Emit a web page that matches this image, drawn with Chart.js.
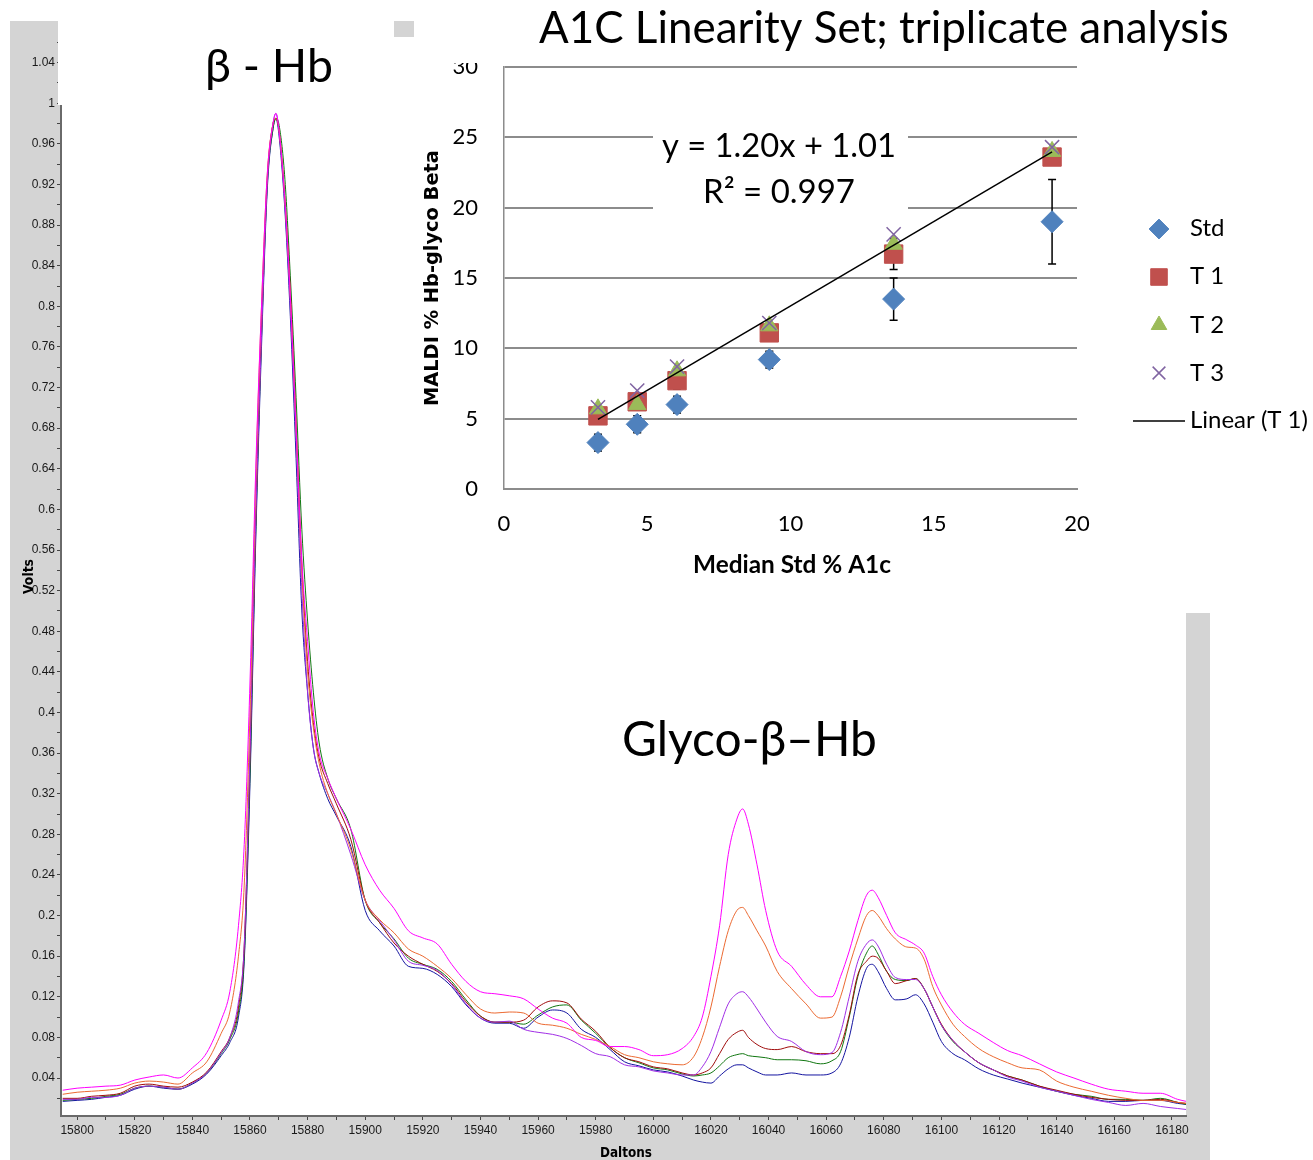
<!DOCTYPE html>
<html><head><meta charset="utf-8">
<script src="https://cdn.jsdelivr.net/npm/chart.js@4.4.0/dist/chart.umd.min.js"></script>
<style>
html,body{margin:0;padding:0;background:#fff;}
#wrap{position:relative;width:1313px;height:1160px;overflow:hidden;background:#fff;}
canvas{position:absolute;}
</style></head><body>
<div id="wrap">
<canvas id="main" width="1313" height="1160" style="left:0;top:0"></canvas>
<canvas id="inset" width="899" height="613" style="left:414px;top:0;background:#fff"></canvas>
<canvas id="over" width="1313" height="1160" style="left:0;top:0;pointer-events:none"></canvas>
</div>
<script>
// ---------- Spectrum data (Daltons vs Volts) ----------
const daltons = [15795,15800,15805,15810,15815,15820,15825,15830,15835,15840,
 15845,15850,15853,15856,15858,15860,15862,15864,15866,15868,
 15869,15870,15872,15874,15876,15878,15880,15882,15884,15887,
 15890,15895,15900,15905,15910,15915,15920,15925,15930,15935,
 15940,15945,15950,15955,15960,15965,15970,15975,15980,15985,
 15990,15995,16000,16005,16010,16014,16017,16020,16023,16026,
 16029,16031,16033,16036,16039,16043,16048,16053,16058,16062,
 16065,16068,16071,16074,16076,16078,16081,16084,16088,16091,
 16094,16097,16100,16104,16108,16113,16118,16123,16128,16134,
 16140,16146,16152,16158,16164,16170,16176,16182,16185];

const magentaTrace = [0.028,0.030,0.031,0.032,0.033,0.038,0.041,0.043,0.040,0.050,
 0.065,0.097,0.125,0.19,0.27,0.43,0.64,0.80,0.93,0.98,
 0.99,0.975,0.91,0.81,0.68,0.55,0.47,0.40,0.36,0.335,
 0.315,0.285,0.25,0.225,0.207,0.185,0.178,0.172,0.152,0.135,
 0.125,0.123,0.121,0.118,0.108,0.099,0.094,0.080,0.077,0.071,
 0.071,0.068,0.062,0.063,0.069,0.081,0.100,0.140,0.190,0.260,
 0.295,0.305,0.290,0.250,0.205,0.165,0.150,0.132,0.120,0.120,
 0.140,0.165,0.195,0.220,0.225,0.218,0.200,0.183,0.176,0.171,
 0.163,0.140,0.122,0.105,0.093,0.084,0.075,0.067,0.062,0.054,
 0.046,0.040,0.034,0.029,0.027,0.025,0.025,0.019,0.017];

const orangeTrace = [0.024,0.026,0.027,0.028,0.030,0.035,0.037,0.036,0.034,0.045,
 0.056,0.084,0.105,0.16,0.23,0.40,0.63,0.80,0.93,0.98,
 0.985,0.975,0.91,0.81,0.68,0.54,0.44,0.385,0.35,0.32,
 0.30,0.265,0.215,0.196,0.183,0.167,0.160,0.150,0.138,0.122,
 0.108,0.104,0.105,0.104,0.094,0.092,0.089,0.083,0.078,0.071,
 0.063,0.060,0.056,0.054,0.053,0.061,0.080,0.110,0.150,0.185,
 0.205,0.208,0.200,0.185,0.170,0.145,0.128,0.113,0.099,0.100,
 0.120,0.150,0.177,0.200,0.205,0.200,0.187,0.177,0.169,0.168,
 0.157,0.130,0.112,0.093,0.081,0.069,0.061,0.055,0.050,0.048,
 0.037,0.031,0.027,0.023,0.020,0.018,0.018,0.016,0.015];

const purpleTrace = [0.019,0.019,0.021,0.021,0.023,0.030,0.032,0.031,0.029,0.035,
 0.045,0.065,0.080,0.115,0.17,0.36,0.59,0.77,0.92,0.98,
 0.99,0.975,0.905,0.80,0.67,0.52,0.42,0.365,0.34,0.32,
 0.30,0.26,0.215,0.195,0.176,0.155,0.151,0.146,0.132,0.113,
 0.099,0.095,0.096,0.088,0.085,0.083,0.079,0.072,0.064,0.061,
 0.053,0.051,0.047,0.045,0.043,0.043,0.051,0.066,0.090,0.113,
 0.123,0.125,0.120,0.108,0.095,0.081,0.076,0.066,0.063,0.065,
 0.085,0.120,0.155,0.172,0.176,0.170,0.152,0.139,0.137,0.137,
 0.128,0.110,0.092,0.077,0.066,0.055,0.048,0.041,0.037,0.031,
 0.027,0.023,0.019,0.016,0.013,0.015,0.012,0.010,0.009];

const darkRedTrace = [0.020,0.020,0.022,0.023,0.025,0.032,0.034,0.032,0.031,0.036,
 0.046,0.066,0.080,0.110,0.17,0.36,0.59,0.78,0.925,0.98,
 0.985,0.975,0.91,0.815,0.685,0.545,0.45,0.39,0.355,0.33,
 0.31,0.275,0.215,0.193,0.173,0.160,0.152,0.145,0.133,0.115,
 0.101,0.095,0.095,0.097,0.110,0.116,0.114,0.098,0.086,0.070,
 0.060,0.056,0.051,0.049,0.045,0.043,0.045,0.050,0.064,0.078,
 0.085,0.087,0.080,0.073,0.069,0.068,0.071,0.066,0.064,0.064,
 0.072,0.102,0.142,0.155,0.160,0.158,0.145,0.133,0.136,0.138,
 0.128,0.110,0.093,0.077,0.066,0.055,0.048,0.042,0.038,0.032,
 0.028,0.024,0.021,0.019,0.018,0.018,0.019,0.016,0.015];

const greenTrace = [0.018,0.019,0.020,0.022,0.024,0.030,0.032,0.031,0.029,0.035,
 0.045,0.064,0.078,0.105,0.16,0.34,0.58,0.77,0.92,0.975,
 0.985,0.98,0.93,0.83,0.71,0.58,0.49,0.42,0.37,0.335,
 0.315,0.285,0.215,0.193,0.177,0.158,0.152,0.147,0.135,0.117,
 0.101,0.095,0.095,0.093,0.102,0.110,0.112,0.097,0.084,0.070,
 0.060,0.055,0.050,0.048,0.044,0.042,0.043,0.045,0.052,0.060,
 0.063,0.064,0.062,0.061,0.060,0.058,0.058,0.057,0.054,0.057,
 0.066,0.100,0.140,0.163,0.170,0.162,0.145,0.137,0.136,0.138,
 0.128,0.110,0.092,0.076,0.066,0.055,0.048,0.042,0.038,0.032,
 0.027,0.024,0.022,0.019,0.019,0.018,0.020,0.016,0.014];

const blueTrace = [0.017,0.018,0.019,0.021,0.023,0.029,0.032,0.030,0.029,0.034,
 0.044,0.062,0.075,0.100,0.155,0.33,0.57,0.76,0.915,0.975,
 0.985,0.97,0.90,0.79,0.65,0.50,0.42,0.365,0.34,0.315,
 0.298,0.268,0.205,0.185,0.170,0.150,0.148,0.142,0.130,0.112,
 0.099,0.094,0.094,0.089,0.100,0.107,0.104,0.088,0.080,0.068,
 0.056,0.052,0.048,0.046,0.042,0.038,0.036,0.035,0.042,0.049,
 0.053,0.053,0.050,0.046,0.043,0.043,0.045,0.043,0.043,0.045,
 0.054,0.080,0.120,0.148,0.152,0.145,0.128,0.117,0.118,0.122,
 0.113,0.095,0.076,0.064,0.058,0.049,0.043,0.039,0.035,0.031,
 0.027,0.023,0.020,0.017,0.017,0.018,0.018,0.015,0.014];

const voltTicks = [0.04,0.08,0.12,0.16,0.2,0.24,0.28,0.32,0.36,0.4,0.44,0.48,0.52,0.56,0.6,0.64,0.68,0.72,0.76,0.8,0.84,0.88,0.92,0.96,1,1.04];
const daltonTicks = [15800,15820,15840,15860,15880,15900,15920,15940,15960,15980,16000,16020,16040,16060,16080,16100,16120,16140,16160,16180];

// ---------- Inset (A1C linearity) data ----------
const medianStdA1c = [3.28, 4.65, 6.04, 9.26, 13.6, 19.13];
const stdValues   = [3.3, 4.6, 6.0, 9.2, 13.5, 19.0];
const stdErr      = [0.6, 0.6, 0.6, 0.6, 1.5, 3.0];
const t1Values    = [5.2, 6.2, 7.7, 11.1, 16.7, 23.6];
const t1Err       = [0.3, 0.4, 0.6, 0.5, 1.1, 0.5];
const t2Values    = [5.7, 6.0, 8.4, 11.6, 17.4, 24.0];
const t3Values    = [5.8, 7.0, 8.7, 11.8, 18.1, 24.3];
const trendSlope = 1.20, trendIntercept = 1.01;
const insetXTicks = [0, 5, 10, 15, 20];
const insetYTicks = [0, 5, 10, 15, 20, 25, 30];

const TICKFONT = "'Liberation Sans Narrow','Liberation Sans',Arial,sans-serif";
const CAL = "Lato, 'Open Sans', sans-serif";

function pts(arr){ return daltons.map((d,i)=>({x:d, y:arr[i]})); }
function line(label, arr, color){
  return {label, data:pts(arr), borderColor:color, borderWidth:1, pointRadius:0,
    cubicInterpolationMode:'monotone', fill:false};
}

const bgPlugin = {
  id:'bg',
  beforeDraw(chart){
    const c = chart.ctx, a = chart.chartArea;
    c.save();
    c.fillStyle = '#d4d4d4'; c.fillRect(10, 21, 1200, 1139);
    c.fillStyle = '#ffffff'; c.fillRect(a.left, a.top, a.right - a.left, a.bottom - a.top);
    c.restore();
  }
};

new Chart(document.getElementById('main'), {
  type:'line',
  data:{ datasets:[
    line('T magenta', magentaTrace, '#ff00ff'),
    line('T orange', orangeTrace, '#ec6a32'),
    line('T purple', purpleTrace, '#a12ee6'),
    line('T dark red', darkRedTrace, '#a00c0c'),
    line('T green', greenTrace, '#117711'),
    line('T blue', blueTrace, '#1414a0')
  ]},
  options:{
    responsive:false, animation:false, events:[],
    layout:{padding:{left:10, right:127, top:22, bottom:0}},
    plugins:{legend:{display:false}, tooltip:{enabled:false}},
    scales:{
      x:{type:'linear', min:15794.4, max:16184.9,
        afterBuildTicks(s){ const t=[]; daltonTicks.forEach(v=>{t.push({value:v,lbl:String(v)}); t.push({value:v+10,lbl:''});}); t.push({value:15790,lbl:''}); s.ticks = t.filter(o=>o.value>=s.min&&o.value<=s.max).sort((a,b)=>a.value-b.value); },
        afterFit(s){ s.height = 44; },
        ticks:{autoSkip:false, maxRotation:0, padding:3, color:'#1a1a1a', font:{family:TICKFONT, size:12},
          callback(v,i,t){ return t[i].lbl; }},
        grid:{drawOnChartArea:false, drawTicks:true, tickLength:4, color:'#444'},
        border:{display:true, color:'#6a6a6a', width:2}
      },
      y:{type:'linear', min:0.0026, max:1.08,
        afterBuildTicks(s){ const t=[]; voltTicks.forEach(v=>{t.push({value:v,lbl:String(v)}); t.push({value:+(v+0.02).toFixed(2),lbl:''});}); t.push({value:0.02,lbl:''}); s.ticks = t.filter(o=>o.value>=s.min&&o.value<=s.max).sort((a,b)=>a.value-b.value); },
        afterFit(s){ s.width = 51; },
        ticks:{autoSkip:false, padding:2, color:'#1a1a1a', font:{family:TICKFONT, size:12},
          callback(v,i,t){ return t[i].lbl; }},
        grid:{drawOnChartArea:false, drawTicks:true, tickLength:4, color:'#444'},
        border:{display:true, color:'#6a6a6a', width:2}
      }
    }
  },
  plugins:[bgPlugin]
});

// ---------- Inset chart ----------
const errPlugin = {
  id:'err',
  beforeDatasetsDraw(chart){
    const c = chart.ctx, xs = chart.scales.x, ys = chart.scales.y;
    c.save(); c.strokeStyle = '#000'; c.lineWidth = 1.5;
    const draw = (vals, errs) => vals.forEach((v,i)=>{
      const px = xs.getPixelForValue(medianStdA1c[i]);
      const top = ys.getPixelForValue(v + errs[i]), bot = ys.getPixelForValue(v - errs[i]);
      c.beginPath(); c.moveTo(px, top); c.lineTo(px, bot);
      c.moveTo(px-4, top); c.lineTo(px+4, top); c.moveTo(px-4, bot); c.lineTo(px+4, bot); c.stroke();
    });
    draw(stdValues, stdErr); draw(t1Values, t1Err);
    c.restore();
  }
};

const insetLegend = {
  id:'insetLegend',
  afterDraw(chart){
    const c = chart.ctx;
    const mx = 745;
    const byLabel = l => chart.data.datasets.find(d=>d.label===l);
    const items = [['Std',229],['T 1',277],['T 2',325],['T 3',373]];
    c.save();
    items.forEach(([l,y])=>{
      const d = byLabel(l);
      c.fillStyle = d.backgroundColor; c.strokeStyle = d.borderColor; c.lineWidth = d.borderWidth;
      Chart.helpers.drawPoint(c, {pointStyle:d.pointStyle, radius:d.pointRadius*0.9, rotation:0, borderWidth:d.borderWidth}, mx, y);
    });
    c.strokeStyle = '#000'; c.lineWidth = 1.5;
    c.beginPath(); c.moveTo(719, 421); c.lineTo(771, 421); c.stroke();
    c.restore();
  }
};

const xs0 = medianStdA1c[0], xs1 = medianStdA1c[medianStdA1c.length-1];
// Chart.js paints the first dataset last (on top): trend line, then T 3, T 2, T 1, Std.
new Chart(document.getElementById('inset'), {
  type:'scatter',
  data:{ datasets:[
    {label:'Linear (T 1)', type:'line', showLine:true, data:[{x:xs0, y:trendSlope*xs0+trendIntercept},{x:xs1, y:trendSlope*xs1+trendIntercept}],
      borderColor:'#000', borderWidth:1.5, pointRadius:0},
    {label:'T 3', data:medianStdA1c.map((x,i)=>({x, y:t3Values[i]})), pointStyle:'crossRot', pointRadius:10,
      backgroundColor:'#8064a2', borderColor:'#8064a2', borderWidth:1.5},
    {label:'T 2', data:medianStdA1c.map((x,i)=>({x, y:t2Values[i]})), pointStyle:'triangle', pointRadius:10,
      backgroundColor:'#9bbb59', borderColor:'#9bbb59', borderWidth:1},
    {label:'T 1', data:medianStdA1c.map((x,i)=>({x, y:t1Values[i]})), pointStyle:'rect', pointRadius:13,
      backgroundColor:'#c0504d', borderColor:'#c0504d', borderWidth:1},
    {label:'Std', data:medianStdA1c.map((x,i)=>({x, y:stdValues[i]})), pointStyle:'rectRot', pointRadius:11,
      backgroundColor:'#4f81bd', borderColor:'#4f81bd', borderWidth:1}
  ]},
  options:{
    responsive:false, animation:false, events:[],
    layout:{padding:{left:0, right:236, top:67, bottom:0}},
    plugins:{legend:{display:false}, tooltip:{enabled:false}},
    scales:{
      x:{type:'linear', min:0, max:20,
        afterBuildTicks(s){ s.ticks = insetXTicks.map(v=>({value:v})); },
        afterFit(s){ s.height = 124; },
        ticks:{padding:22, color:'#000', font:{family:CAL, size:22}},
        grid:{drawOnChartArea:false, drawTicks:false},
        border:{display:true, color:'#8c8c8c', width:2}
      },
      y:{type:'linear', min:0, max:30,
        afterBuildTicks(s){ s.ticks = insetYTicks.map(v=>({value:v})); },
        afterFit(s){ s.width = 90; },
        ticks:{padding:26, color:'#000', font:{family:CAL, size:22}},
        grid:{color:'#8c8c8c', lineWidth:2, drawTicks:false},
        border:{display:true, color:'#8c8c8c', width:1.5}
      }
    }
  },
  plugins:[errPlugin, insetLegend]
});

// ---------- Overlay: cover boxes and annotation text ----------
const ov = document.getElementById('over').getContext('2d');
ov.fillStyle = '#fff'; ov.fillRect(58, 0, 356, 105);
ov.fillStyle = '#d4d4d4'; ov.fillRect(394, 21, 20, 16);
ov.fillStyle = '#fff'; ov.fillRect(414, 0, 899, 63);
ov.fillRect(653, 113, 255, 110);

function fitSize(text, weight, family, width){
  ov.font = `${weight} 100px ${family}`;
  return 100 * width / ov.measureText(text).width;
}
function fitText(text, weight, family, x0, x1, baseline){
  const s = fitSize(text, weight, family, x1 - x0);
  ov.font = `${weight} ${s}px ${family}`;
  ov.fillStyle = '#000'; ov.textBaseline = 'alphabetic'; ov.textAlign = 'left';
  ov.fillText(text, x0, baseline);
}
function fitTextUp(text, weight, family, yStart, yEnd, baselineX){
  const s = fitSize(text, weight, family, yStart - yEnd);
  ov.save(); ov.translate(baselineX, yStart); ov.rotate(-Math.PI/2);
  ov.font = `${weight} ${s}px ${family}`;
  ov.fillStyle = '#000'; ov.textBaseline = 'alphabetic'; ov.textAlign = 'left';
  ov.fillText(text, 0, 0); ov.restore();
}

fitText('β - Hb', 'normal', CAL, 205, 333, 82);
fitText('Glyco-β–Hb', 'normal', CAL, 622, 877, 756);
fitText('A1C Linearity Set; triplicate analysis', 'normal', CAL, 539, 1229, 43);
fitText('y = 1.20x + 1.01', 'normal', CAL, 662, 896, 157);
fitText('R² = 0.997', 'normal', CAL, 703, 855, 203);
fitText('Median Std % A1c', 'bold', CAL, 693, 891, 573);
fitText('Daltons', 'bold', "'DejaVu Sans Condensed','DejaVu Sans',sans-serif", 600, 652, 1157);
fitTextUp('MALDI % Hb-glyco Beta', 'bold', "'DejaVu Sans',Verdana,sans-serif", 406, 150, 438);
fitTextUp('Volts', 'bold', "'DejaVu Sans Condensed','DejaVu Sans',sans-serif", 594, 559, 33);

const legSize = fitSize('Linear (T 1)', 'normal', CAL, 118);
ov.font = `normal ${legSize}px ${CAL}`; ov.fillStyle = '#000'; ov.textAlign = 'left'; ov.textBaseline = 'alphabetic';
[['Std',236],['T 1',284],['T 2',333],['T 3',381],['Linear (T 1)',428]].forEach(([t,b])=>ov.fillText(t, 1190, b));
</script>
</body></html>
